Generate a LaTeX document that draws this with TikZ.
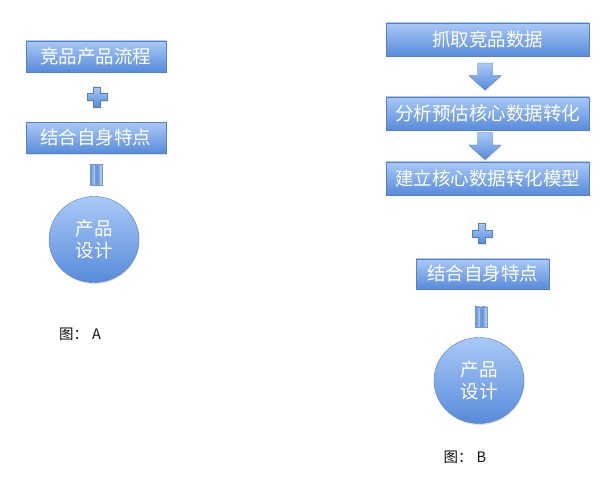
\documentclass[tikz,border=0pt]{standalone}
\usepackage{fontspec}
\setmainfont{Noto Sans CJK SC}
\usetikzlibrary{shapes.geometric, calc, shadows}
\definecolor{SkyTop}{HTML}{A9C9F7}
\definecolor{SkyBottom}{HTML}{588BDA}
\definecolor{SkyLine}{HTML}{5581C0}
\definecolor{CapBlack}{HTML}{111111}

\begin{document}
\begin{tikzpicture}[x=1pt, y=-1pt,
    softshadow/.style={drop shadow={opacity=0.25, shadow xshift=0.5pt, shadow yshift=-1.5pt}},
    flowbox/.style={draw=SkyLine, top color=SkyTop, bottom color=SkyBottom,
      text=white, font=\fontsize{18.5}{20}\selectfont, inner sep=0pt,
      minimum height=31pt, softshadow},
    designball/.style={ellipse, draw=SkyLine, top color=SkyTop, bottom color=SkyBottom,
      text=white, align=center, font=\fontsize{18.5}{22}\selectfont, inner sep=0pt,
      minimum width=90pt, minimum height=86pt, softshadow},
    plussign/.style={draw=SkyLine, top color=SkyTop, bottom color=SkyBottom, softshadow},
    eqbar/.style={draw=SkyLine!80, left color=SkyBottom, right color=SkyTop!70},
    downarrow/.style={draw=SkyLine, top color=SkyTop, bottom color=SkyBottom, softshadow},
    caption/.style={text=CapBlack, font=\fontsize{14.5}{17}\selectfont}]
  \useasboundingbox[fill=white] (0,0) rectangle (606,484);

  % figure A
  \node[flowbox, minimum width=140pt] (compA) at (96,56.5) {竞品产品流程};
  \coordinate (plusA) at (97,97);
  \node[flowbox, minimum width=140pt] (ownA) at (96,138) {结合自身特点};
  \coordinate (eqA) at (96,175);
  \node[designball] (designA) at (94,239.5) {产品\\设计};
  \node[caption] (capA) at (80,334) {图：\hspace{4pt}A};

  \path[plussign, shift={(plusA)}] (-3.5,-10) -- (3.5,-10) -- (3.5,-3.5) -- (10,-3.5)
    -- (10,3.5) -- (3.5,3.5) -- (3.5,10) -- (-3.5,10) -- (-3.5,3.5) -- (-10,3.5)
    -- (-10,-3.5) -- (-3.5,-3.5) -- cycle;
  \path[eqbar, shift={(eqA)}] (-6,-10.5) rectangle (-0.5,10.5);
  \path[eqbar, shift={(eqA)}] (0.5,-10.5) rectangle (6,10.5);

  % figure B
  \node[flowbox, minimum width=203pt, minimum height=33pt] (grabB) at (487.5,39.5) {抓取竞品数据};
  \node[flowbox, minimum width=203pt, minimum height=33pt] (evalB) at (487.5,113.5) {分析预估核心数据转化};
  \node[flowbox, minimum width=203pt, minimum height=33pt] (modelB) at (487.5,178.5) {建立核心数据转化模型};
  \coordinate (plusB) at (482,233.5);
  \node[flowbox, minimum width=133pt, minimum height=30pt] (ownB) at (482.5,274) {结合自身特点};
  \coordinate (eqB) at (481,317);
  \node[designball] (designB) at (479,380.5) {产品\\设计};
  \node[caption] (capB) at (465,457.5) {图：\hspace{4pt}B};

  \path[downarrow, shift={($(grabB.south)!0.5!(evalB.north)+(-2.5,0)$)}]
    (-7.5,-13.5) -- (7.5,-13.5) -- (7.5,-1) -- (16,-1) -- (0,13.5) -- (-16,-1)
    -- (-7.5,-1) -- cycle;
  \path[downarrow, shift={($(evalB.south)!0.5!(modelB.north)+(-2.5,0)$)}]
    (-7.5,-13.5) -- (7.5,-13.5) -- (7.5,-1) -- (16,-1) -- (0,13.5) -- (-16,-1)
    -- (-7.5,-1) -- cycle;

  \path[plussign, shift={(plusB)}] (-3.5,-10) -- (3.5,-10) -- (3.5,-3.5) -- (10,-3.5)
    -- (10,3.5) -- (3.5,3.5) -- (3.5,10) -- (-3.5,10) -- (-3.5,3.5) -- (-10,3.5)
    -- (-10,-3.5) -- (-3.5,-3.5) -- cycle;
  \path[eqbar, shift={(eqB)}] (-6,-10) rectangle (-0.5,10);
  \path[eqbar, shift={(eqB)}] (0.5,-10) rectangle (6,10);
\end{tikzpicture}
\end{document}
